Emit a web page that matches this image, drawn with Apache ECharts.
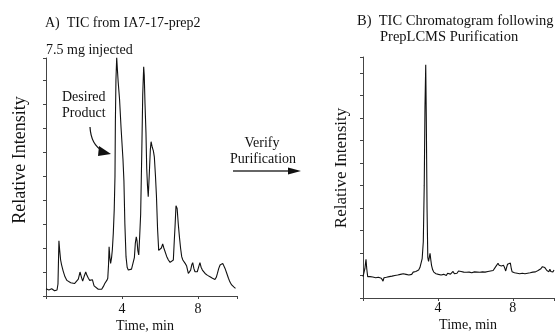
<!DOCTYPE html>
<html>
<head>
<meta charset="utf-8">
<script src="https://cdn.jsdelivr.net/npm/echarts@6/dist/echarts.min.js"></script>
<style>html,body{margin:0;padding:0;background:#fff;}#c{width:557px;height:334px;}</style>
</head>
<body>
<div id="c"></div>
<script>
// Panel A: TIC from IA7-17-prep2 (time in min, relative intensity in tick units)
const aTime = [0.00,0.05,0.10,0.15,0.20,0.25,0.30,0.35,0.40,0.45,0.52,0.58,0.63,0.68,0.72,0.77,0.82,0.90,1.00,1.10,1.20,1.30,1.40,1.50,1.60,1.70,1.79,1.86,1.93,2.00,2.09,2.16,2.23,2.30,2.35,2.44,2.53,2.62,2.75,2.85,2.93,3.02,3.10,3.20,3.25,3.29,3.32,3.36,3.40,3.45,3.49,3.54,3.59,3.63,3.65,3.68,3.72,3.76,3.80,3.87,3.95,4.05,4.10,4.15,4.21,4.27,4.33,4.42,4.50,4.58,4.65,4.70,4.75,4.79,4.83,4.88,4.93,4.98,5.04,5.09,5.14,5.17,5.21,5.26,5.30,5.34,5.38,5.43,5.49,5.53,5.59,5.65,5.70,5.76,5.81,5.87,5.93,6.00,6.07,6.14,6.20,6.26,6.35,6.44,6.53,6.61,6.70,6.75,6.79,6.84,6.90,6.96,7.02,7.08,7.14,7.20,7.26,7.33,7.40,7.49,7.55,7.61,7.67,7.72,7.78,7.84,7.90,7.96,8.03,8.10,8.16,8.23,8.30,8.37,8.50,8.63,8.76,8.89,8.96,9.02,9.09,9.16,9.23,9.30,9.36,9.42,9.51,9.60,9.68,9.77,9.88,9.97];
const aValue = [0.30,0.22,0.35,0.25,0.33,0.20,0.30,0.24,0.35,0.22,0.28,0.25,0.50,2.30,1.90,1.50,1.30,1.05,0.80,0.65,0.58,0.55,0.56,0.52,0.60,0.70,1.00,0.80,0.62,0.80,1.00,0.85,0.74,0.65,0.58,0.68,0.42,0.35,0.28,0.26,0.28,0.40,0.53,0.65,0.74,1.30,2.05,1.60,1.36,1.60,1.92,2.60,3.60,5.00,7.20,9.00,9.94,9.40,8.90,8.20,7.00,5.70,4.80,3.00,1.64,1.20,1.08,1.08,1.12,1.15,1.60,2.20,2.47,2.30,1.90,1.71,2.50,3.40,6.00,8.40,9.55,9.20,8.00,6.80,5.30,4.60,4.14,5.00,6.10,6.43,6.20,6.05,5.80,5.00,4.20,2.80,1.90,1.85,2.00,2.17,2.00,1.92,1.65,1.50,1.40,1.36,1.50,2.30,2.90,3.76,3.65,3.00,2.47,2.00,1.64,1.50,1.43,1.35,1.25,0.94,1.00,1.08,1.30,1.39,1.15,1.01,0.98,1.01,1.20,1.39,1.20,1.08,1.00,0.94,0.86,0.80,0.74,0.69,0.78,0.94,1.15,1.29,1.35,1.36,1.28,1.15,0.95,0.74,0.58,0.46,0.38,0.32];

// Panel B: TIC Chromatogram following PrepLCMS Purification
const bTime = [0.00,0.05,0.10,0.16,0.20,0.25,0.30,0.38,0.45,0.52,0.60,0.68,0.75,0.82,0.90,0.98,1.07,1.12,1.18,1.25,1.32,1.40,1.48,1.55,1.62,1.70,1.78,1.85,1.92,2.00,2.08,2.15,2.22,2.30,2.38,2.45,2.52,2.60,2.68,2.75,2.82,2.90,2.97,3.04,3.10,3.16,3.22,3.27,3.31,3.35,3.38,3.42,3.46,3.50,3.54,3.58,3.62,3.66,3.72,3.78,3.84,3.90,3.96,4.03,4.10,4.17,4.24,4.31,4.38,4.45,4.52,4.60,4.67,4.74,4.81,4.88,4.95,5.02,5.10,5.17,5.24,5.31,5.38,5.45,5.52,5.60,5.67,5.74,5.81,5.88,5.95,6.02,6.10,6.17,6.24,6.31,6.38,6.45,6.52,6.60,6.67,6.74,6.81,6.88,6.95,7.02,7.08,7.14,7.21,7.27,7.33,7.39,7.45,7.50,7.56,7.62,7.68,7.72,7.77,7.82,7.87,7.92,7.96,8.02,8.09,8.16,8.23,8.30,8.37,8.44,8.51,8.58,8.65,8.72,8.79,8.86,8.93,9.00,9.07,9.14,9.21,9.28,9.35,9.42,9.50,9.58,9.65,9.71,9.75,9.82,9.88,9.93,9.98,10.03,10.08,10.14,10.20];
const bValue = [0.95,1.00,1.30,1.72,1.30,0.95,1.00,0.95,0.98,0.93,0.96,0.90,0.94,0.92,0.95,0.88,0.75,0.90,0.85,0.92,0.88,0.95,0.90,0.97,0.93,1.00,0.94,1.02,0.97,1.05,0.98,1.08,1.00,1.05,1.12,1.02,1.10,1.05,1.15,1.08,1.18,1.12,1.24,1.35,1.55,1.75,2.50,5.00,8.50,10.36,8.00,4.00,1.80,1.62,1.80,1.98,1.70,1.45,1.25,1.15,1.17,1.08,1.14,1.05,1.12,1.02,1.10,1.05,1.12,1.00,1.10,1.15,1.06,1.12,1.18,1.08,1.15,1.10,1.20,1.12,1.18,1.10,1.15,1.22,1.14,1.20,1.15,1.18,1.12,1.20,1.16,1.22,1.15,1.20,1.14,1.22,1.16,1.20,1.15,1.22,1.18,1.25,1.20,1.28,1.22,1.30,1.38,1.45,1.54,1.45,1.50,1.42,1.38,1.45,1.35,1.20,1.17,1.50,1.57,1.48,1.55,1.30,1.17,1.10,1.12,1.06,1.10,1.04,1.08,1.02,1.10,1.05,1.08,1.02,1.10,1.06,1.12,1.08,1.15,1.10,1.16,1.12,1.22,1.20,1.30,1.39,1.32,1.35,1.27,1.22,1.15,1.17,1.28,1.18,1.25,1.15,1.24];

const xTickLabels = ['4', '8'];

const FONT = '"Liberation Serif", "DejaVu Serif", serif';
const aData = aTime.map((t, i) => [t, aValue[i]]);
const bData = bTime.map((t, i) => [t, bValue[i]]);

const axisColor = '#444';
function xAxisCfg(idx, max, margin) {
  return {
    gridIndex: idx, type: 'value', min: 0, max: max, interval: 4,
    axisLine: { show: true, lineStyle: { color: axisColor, width: 1 } },
    axisTick: { show: true, length: 3, lineStyle: { color: axisColor } },
    axisLabel: {
      color: '#111', fontFamily: FONT, fontSize: 14, margin: margin,
      formatter: v => (xTickLabels.indexOf(String(v)) >= 0 ? String(v) : '')
    },
    splitLine: { show: false }
  };
}
function yAxisCfg(idx, max) {
  return {
    gridIndex: idx, type: 'value', min: 0, max: max, interval: 1,
    axisLine: { show: true, lineStyle: { color: axisColor, width: 1 } },
    axisTick: { show: true, length: 3, lineStyle: { color: axisColor } },
    axisLabel: { show: false },
    splitLine: { show: false }
  };
}

const chart = echarts.init(document.getElementById('c'), null, { renderer: 'canvas' });
chart.setOption({
  animation: false,
  backgroundColor: '#fff',
  grid: [
    { left: 46, top: 58, width: 191, height: 238 },
    { left: 363, top: 57, width: 194, height: 241 }
  ],
  xAxis: [xAxisCfg(0, 10.05, 6), xAxisCfg(1, 10.2, 3)],
  yAxis: [yAxisCfg(0, 9.92), yAxisCfg(1, 10.7)],
  series: [
    { type: 'line', xAxisIndex: 0, yAxisIndex: 0, data: aData, showSymbol: false, symbol: 'none',
      lineStyle: { color: '#111', width: 1.1 } },
    { type: 'line', xAxisIndex: 1, yAxisIndex: 1, data: bData, showSymbol: false, symbol: 'none',
      lineStyle: { color: '#111', width: 1.1 } }
  ],
  graphic: [
    { type: 'text', style: { x: 45, y: 23, text: 'A)  TIC from IA7-17-prep2', font: '14px ' + FONT, fill: '#111', textVerticalAlign: 'middle' } },
    { type: 'text', style: { x: 46, y: 50, text: '7.5 mg injected', font: '14px ' + FONT, fill: '#111', textVerticalAlign: 'middle' } },
    { type: 'text', style: { x: 62, y: 97, text: 'Desired', font: '14px ' + FONT, fill: '#111', textVerticalAlign: 'middle' } },
    { type: 'text', style: { x: 62, y: 113, text: 'Product', font: '14px ' + FONT, fill: '#111', textVerticalAlign: 'middle' } },
    { type: 'bezierCurve', shape: { x1: 90, y1: 127, cpx1: 91, cpy1: 145, x2: 103, y2: 151 }, style: { stroke: '#111', lineWidth: 1.2, fill: null } },
    { type: 'polygon', shape: { points: [[99, 146], [111, 154], [98, 156]] }, style: { fill: '#111' } },
    { type: 'text', style: { x: 262, y: 143, text: 'Verify', font: '14px ' + FONT, fill: '#111', textAlign: 'center', textVerticalAlign: 'middle' } },
    { type: 'text', style: { x: 263, y: 159, text: 'Purification', font: '14px ' + FONT, fill: '#111', textAlign: 'center', textVerticalAlign: 'middle' } },
    { type: 'line', shape: { x1: 233, y1: 171, x2: 292, y2: 171 }, style: { stroke: '#333', lineWidth: 1.3 } },
    { type: 'polygon', shape: { points: [[288, 167.5], [301, 171], [288, 174.5]] }, style: { fill: '#111' } },
    { type: 'text', rotation: Math.PI / 2, x: 20, y: 160, style: { x: 0, y: 0, text: 'Relative Intensity', font: '18px ' + FONT, fill: '#111', textAlign: 'center', textVerticalAlign: 'middle' } },
    { type: 'text', style: { x: 145, y: 326, text: 'Time, min', font: '14px ' + FONT, fill: '#111', textAlign: 'center', textVerticalAlign: 'middle' } },
    { type: 'text', style: { x: 357, y: 21, text: 'B)  TIC Chromatogram following', font: '14.5px ' + FONT, fill: '#111', textVerticalAlign: 'middle' } },
    { type: 'text', style: { x: 380, y: 37, text: 'PrepLCMS Purification', font: '14.5px ' + FONT, fill: '#111', textVerticalAlign: 'middle' } },
    { type: 'text', rotation: Math.PI / 2, x: 342, y: 168, style: { x: 0, y: 0, text: 'Relative Intensity', font: '17px ' + FONT, fill: '#111', textAlign: 'center', textVerticalAlign: 'middle' } },
    { type: 'text', style: { x: 468, y: 325, text: 'Time, min', font: '14px ' + FONT, fill: '#111', textAlign: 'center', textVerticalAlign: 'middle' } }
  ]
});
</script>
</body>
</html>
